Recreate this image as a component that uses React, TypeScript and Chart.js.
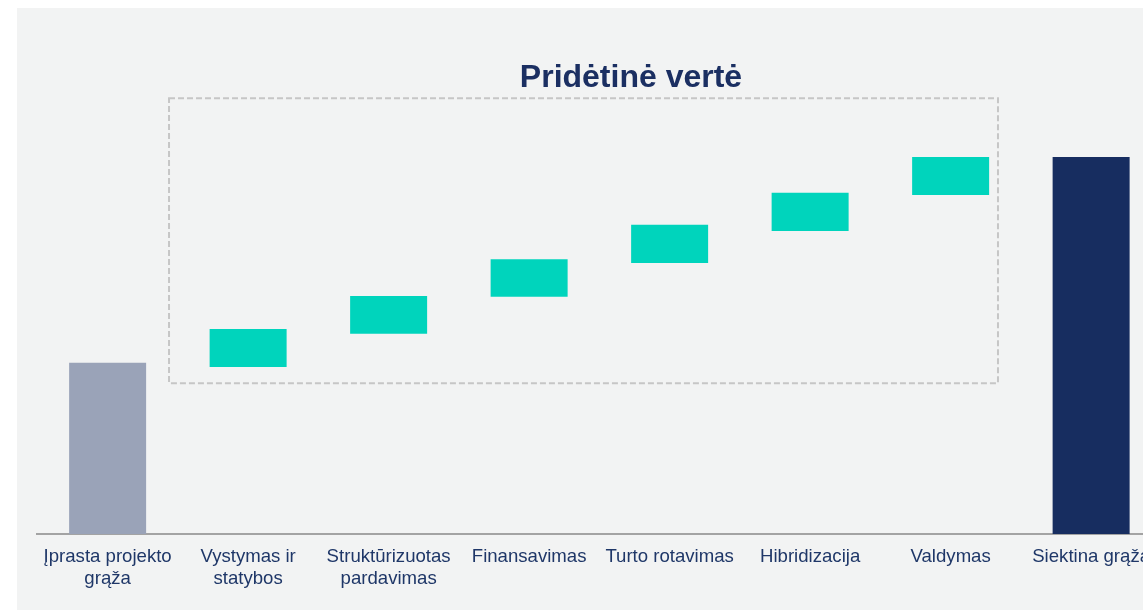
import React, { useEffect, useRef } from "react";
import { Chart, registerables } from "chart.js";

Chart.register(...registerables);

// ---- data ----
const categories: string[][] = [
  ["Įprasta projekto", "grąža"],
  ["Vystymas ir", "statybos"],
  ["Struktūrizuotas", "pardavimas"],
  ["Finansavimas"],
  ["Turto rotavimas"],
  ["Hibridizacija"],
  ["Valdymas"],
  ["Siektina grąža"],
];
const barStarts = [0, 44.3, 53.1, 62.9, 71.9, 80.4, 89.9, 0];
const barEnds = [45.4, 54.4, 63.1, 72.9, 82.0, 90.5, 100, 100];
const titleText = "Pridėtinė vertė";

// ---- styles ----
const GREY = "#9aa3b8";
const TEAL = "#00d4bc";
const NAVY = "#172d60";
const barColors = [GREY, TEAL, TEAL, TEAL, TEAL, TEAL, TEAL, NAVY];
const PANEL_BG = "#f2f3f3";
const TEXT_COLOR = "#1f3768";
const TITLE_COLOR = "#1b2f62";

// dashed "added value" box, in scale units (category index / value)
const BOX_X0 = 0.437;
const BOX_X1 = 6.337;
const BOX_Y0 = 40;
const BOX_Y1 = 115.6;
const TITLE_X = 3.725;
const TITLE_GAP = 11;

const boxPlugin = {
  id: "valueBox",
  beforeDatasetsDraw(chart: any) {
    const { ctx, scales } = chart;
    const x = scales.x;
    const y = scales.y;
    const l = x.getPixelForValue(BOX_X0);
    const r = x.getPixelForValue(BOX_X1);
    const t = y.getPixelForValue(BOX_Y1);
    const b = y.getPixelForValue(BOX_Y0);
    ctx.save();
    ctx.setLineDash([6, 3]);
    ctx.lineWidth = 2;
    ctx.strokeStyle = "#c6c6c6";
    ctx.strokeRect(l, t, r - l, b - t);
    ctx.setLineDash([]);
    ctx.fillStyle = TITLE_COLOR;
    ctx.font = 'bold 32px "Liberation Sans", Arial, sans-serif';
    ctx.textAlign = "center";
    ctx.textBaseline = "alphabetic";
    ctx.fillText(titleText, x.getPixelForValue(TITLE_X), t - TITLE_GAP);
    ctx.restore();
  },
};

export default function App() {
  const ref = useRef<HTMLCanvasElement | null>(null);

  useEffect(() => {
    if (!ref.current) return;
    const data = barStarts.map((s, i) => [s, barEnds[i]]);
    const chart = new Chart(ref.current, {
      type: "bar",
      data: {
        labels: categories as any,
        datasets: [
          {
            data: data as any,
            backgroundColor: barColors,
            borderWidth: 0,
            barPercentage: 0.548,
            categoryPercentage: 1,
          },
        ],
      },
      options: {
        animation: false,
        responsive: false,
        devicePixelRatio: 1,
        layout: { padding: { left: 20.375, right: 15.625, top: 73.6, bottom: 0 } },
        plugins: {
          legend: { display: false },
          tooltip: { enabled: false },
          title: { display: false },
        },
        scales: {
          x: {
            offset: true,
            grid: { display: false, drawTicks: false },
            border: { display: true, color: "#a3a3a3", width: 2 },
            ticks: {
              autoSkip: false,
              maxRotation: 0,
              minRotation: 0,
              padding: 12,
              color: TEXT_COLOR,
              font: { family: '"Liberation Sans", Arial, sans-serif', size: 18.6, lineHeight: 22 / 18.6 },
            },
            afterFit: (scale: any) => {
              scale.height = 76;
            },
          },
          y: {
            display: false,
            min: 0,
            max: 120,
          },
        },
      },
      plugins: [boxPlugin],
    });
    return () => chart.destroy();
  }, []);

  return (
    <div
      style={{
        position: "fixed",
        left: 17,
        top: 8,
        width: 1126,
        height: 602,
        overflow: "hidden",
        background: PANEL_BG,
      }}
    >
      <canvas ref={ref} width={1160} height={602} style={{ display: "block", width: 1160, height: 602 }} />
    </div>
  );
}
